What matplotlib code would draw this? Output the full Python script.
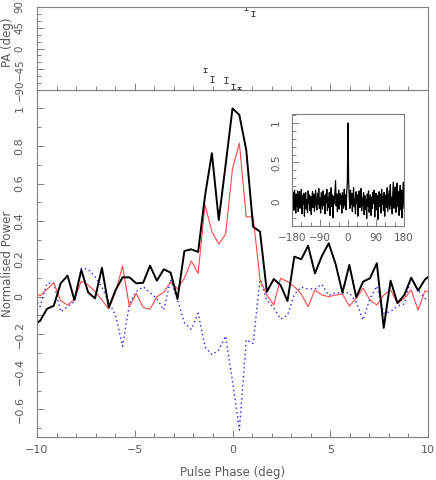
import numpy as np
import matplotlib
matplotlib.use("Agg")
import matplotlib.pyplot as plt
from matplotlib.ticker import MultipleLocator

plt.rcParams['font.family'] = ['DejaVu Sans']

# ---------------- data ----------------
bin_index = np.arange(-29, 30)
phase = bin_index * 360.0 / 1024.0   # pulse phase grid (deg)

total_power = [-0.15, -0.13, -0.066, -0.049, 0.070, 0.111, -0.019, 0.141, 0.022, -0.010,
               0.153, -0.058, 0.035, 0.102, 0.102, 0.070, 0.073, 0.164, 0.084, 0.145,
               0.127, -0.013, 0.242, 0.251, 0.237, 0.535, 0.762, 0.407, 0.70, 1.0,
               0.965, 0.779, 0.371, 0.345, 0.025, 0.093, 0.060, -0.024, 0.212, 0.198,
               0.270, 0.123, 0.215, 0.283, 0.173, 0.020, 0.168, -0.004, 0.079, 0.097,
               0.177, -0.167, 0.084, -0.035, 0.008, 0.100, 0.031, 0.090, 0.12]

linear_power = [0.03, 0.003, 0.038, 0.073, -0.022, -0.045, -0.015, 0.082, 0.061, 0.026,
                -0.019, -0.066, 0.026, 0.162, -0.054, 0.017, -0.058, -0.068, -0.001, 0.022,
                0.079, 0.040, 0.097, 0.189, 0.123, 0.487, 0.345, 0.279, 0.332, 0.68,
                0.815, 0.424, 0.424, 0.090, 0.008, -0.045, 0.097, 0.079, 0.052, 0.013,
                -0.054, 0.035, 0.008, -0.001, 0.008, 0.013, -0.051, -0.010, 0.044, -0.019,
                -0.045, 0.008, 0.035, -0.036, -0.010, 0.035, -0.072, 0.03, 0.02]

circular_power = [0.01, -0.054, 0.070, 0.070, -0.081, -0.054, -0.027, 0.15, 0.145, 0.105,
                  0.05, -0.03, -0.10, -0.265, -0.04, 0.026, 0.052, 0.02, -0.01, -0.072,
                  0.09, -0.02, -0.14, -0.175, -0.089, -0.267, -0.31, -0.285, -0.21, -0.45,
                  -0.71, -0.23, -0.25, 0.09, -0.02, -0.06, -0.12, -0.10, 0.01, 0.05,
                  0.04, 0.04, 0.065, 0.005, 0.02, 0.02, 0.02, -0.03, -0.125, -0.01,
                  0.055, -0.09, -0.08, -0.05, -0.04, 0.10, 0.035, -0.01, -0.03]

pa_phase = [-1.41, -1.05, -0.35, 0.0, 0.35, 0.70, 1.05]
pa_value = [-46.6, -66.2, -68.3, -82.0, -86.3, 87.0, 76.3]
pa_error = [5.0, 7.0, 6.0, 5.0, 2.0, 3.0, 6.0]

inset_longitude = np.arange(-180, 181, 2)
inset_power = [
    0.20, -0.05, 0.12, -0.10, 0.15, 0.02, -0.14, 0.10, -0.06, 0.14,
    -0.12, 0.05, 0.13, -0.08, 0.00, 0.16, -0.15, 0.08, -0.03, 0.11,
    -0.18, 0.06, 0.12, -0.09, 0.03, -0.13, 0.14, -0.02, 0.09, -0.11,
    0.07, -0.16, 0.04, 0.13, -0.07, 0.10, -0.12, 0.02, 0.15, -0.05,
    -0.10, 0.11, -0.03, 0.17, -0.08, 0.05, -0.14, 0.12, 0.01, -0.09,
    0.14, -0.04, 0.08, -0.15, 0.10, -0.01, 0.16, -0.11, 0.06, -0.07,
    0.12, -0.17, 0.03, 0.18, -0.06, 0.09, -0.20, 0.07, -0.02, 0.13,
    0.27, -0.05, 0.10, -0.12, 0.04, 0.15, -0.09, 0.11, -0.03, 0.08,
    -0.14, 0.12, 0.02, -0.08, 0.16, -0.04, 0.09, -0.10, 0.14, 0.25,
    1.00,
    0.28, 0.06, -0.08, 0.15, -0.03, 0.11, -0.12, 0.07, 0.18, -0.06,
    0.04, -0.15, 0.13, -0.02, 0.09, -0.18, 0.06, 0.14, -0.07, 0.02,
    0.17, -0.11, 0.05, -0.04, 0.12, -0.16, 0.08, -0.09, 0.03, -0.21,
    0.10, -0.05, 0.14, -0.13, 0.01, 0.09, -0.17, 0.06, -0.08, 0.12,
    -0.02, 0.15, -0.19, 0.04, 0.11, -0.10, 0.08, -0.22, 0.03, 0.13,
    -0.06, 0.10, -0.14, 0.16, -0.03, 0.07, -0.11, 0.12, -0.18, 0.05,
    0.09, -0.07, 0.18, -0.12, 0.02, 0.14, -0.09, 0.22, -0.04, 0.06,
    -0.15, 0.11, 0.25, -0.08, 0.04, 0.19, -0.13, 0.08, 0.24, -0.06,
    0.13, -0.17, 0.07, 0.21, -0.10, 0.15, -0.20, 0.05, 0.25, -0.08]

# ---------------- style ----------------
TXT = '#5a5a5a'
FRAME = '#808080'
W, H = 436, 480
FS = 8
LFS = 8.5
YLABEL_X = -0.058   # axes fraction for the right edge of the rotated y labels

fig = plt.figure(figsize=(W / 100, H / 100), dpi=100)
fig.patch.set_facecolor('white')

def style_axes(a, fs=FS):
    for s in a.spines.values():
        s.set_color(FRAME)
        s.set_linewidth(0.8)
    a.tick_params(which='both', direction='in', colors=FRAME, labelcolor=TXT,
                  labelsize=fs, width=0.7)
    a.tick_params(which='major', length=5)
    a.tick_params(which='minor', length=3)

def rotate_ylabels(a):
    for lbl in a.get_yticklabels():
        lbl.set_rotation(90)
        lbl.set_va('center')
        lbl.set_ha('right')

# main panel
ax = fig.add_axes([37 / W, 1 - 437 / H, 391 / W, 347 / H])
ax.plot(phase, circular_power, color='#2222ff', lw=1.0, ls=(0, (1, 2.2)))
ax.plot(phase, linear_power, color='#ff4848', lw=0.8)
ax.plot(phase, total_power, color='black', lw=1.4)
ax.set_xlim(-10, 10)
ax.set_ylim(-0.747, 1.098)
style_axes(ax)
ax.xaxis.set_major_locator(MultipleLocator(5))
ax.xaxis.set_minor_locator(MultipleLocator(1))
ax.yaxis.set_minor_locator(MultipleLocator(0.1))
ax.tick_params(axis='both', which='both', top=False, right=False)
ax.tick_params(axis='x', pad=6)
ax.tick_params(axis='y', pad=9)
ax.set_yticks([-0.6, -0.4, -0.2, 0, 0.2, 0.4, 0.6, 0.8, 1.0])
ax.set_yticklabels(['\u22120.6', '\u22120.4', '\u22120.2', '0', '0.2', '0.4', '0.6', '0.8', '1'])
ax.set_xticks([-10, -5, 0, 5, 10])
ax.set_xticklabels(['\u221210', '\u22125', '0', '5', '10'])
rotate_ylabels(ax)
ax.set_xlabel('Pulse Phase (deg)', color=TXT, fontsize=LFS, labelpad=8)
ax.set_ylabel('Normalised Power', color=TXT, fontsize=LFS)
ax.yaxis.set_label_coords(YLABEL_X, 0.5)

# PA panel
axp = fig.add_axes([37 / W, 1 - 90 / H, 391 / W, 83 / H])
axp.errorbar(pa_phase, pa_value, yerr=pa_error, fmt='none', ecolor='#444444',
             elinewidth=0.7, capsize=1.2, capthick=0.7)
axp.set_xlim(-10, 10)
axp.set_ylim(-90, 90)
style_axes(axp, fs=7.4)
axp.xaxis.set_major_locator(MultipleLocator(5))
axp.xaxis.set_minor_locator(MultipleLocator(1))
axp.set_yticks([-90, -45, 0, 45, 90])
axp.set_yticklabels(['\u221290', '\u221245', '0', '45', '90'])
axp.yaxis.set_minor_locator(MultipleLocator(15))
axp.tick_params(axis='x', which='both', labelbottom=False, top=False)
axp.tick_params(axis='y', which='both', right=False, pad=9)
rotate_ylabels(axp)
axp.set_ylabel('PA (deg)', color=TXT, fontsize=LFS)
axp.yaxis.set_label_coords(YLABEL_X, 0.58)

# inset
axi = fig.add_axes([292 / W, 1 - 226 / H, 112 / W, 112 / H])
axi.plot(inset_longitude, inset_power, color='black', lw=0.9)
axi.set_xlim(-180, 180)
axi.set_ylim(-0.304, 1.114)
style_axes(axi, fs=7.5)
axi.set_xticks([-180, -90, 0, 90, 180])
axi.set_xticklabels(['\u2212180', '\u221290', '0', '90', '180'])
axi.xaxis.set_minor_locator(MultipleLocator(30))
axi.set_yticks([0, 0.5, 1])
axi.set_yticklabels(['0', '0.5', '1'])
axi.yaxis.set_minor_locator(MultipleLocator(0.1))
axi.tick_params(axis='both', which='both', top=False, right=False)
axi.tick_params(axis='x', pad=5)
axi.tick_params(axis='y', pad=8)
rotate_ylabels(axi)

fig.savefig('out.png', dpi=100, facecolor='white')
